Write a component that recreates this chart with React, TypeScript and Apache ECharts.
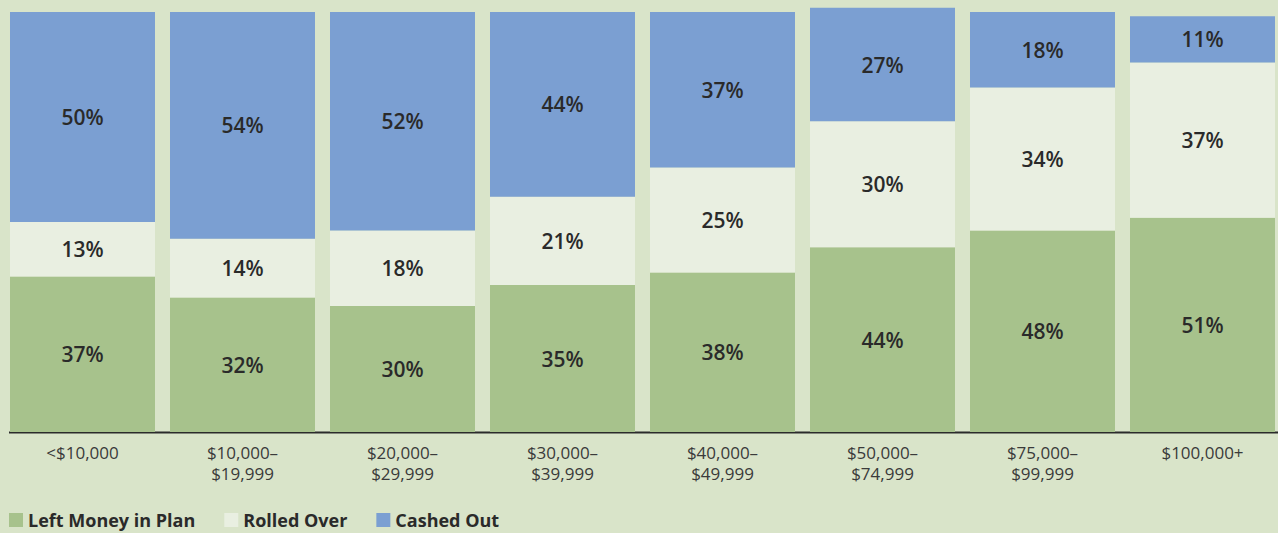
import React, { useEffect, useRef } from "react";
import * as echarts from "echarts";

const categories = [
  "<$10,000",
  "$10,000–\n$19,999",
  "$20,000–\n$29,999",
  "$30,000–\n$39,999",
  "$40,000–\n$49,999",
  "$50,000–\n$74,999",
  "$75,000–\n$99,999",
  "$100,000+",
];
const leftInPlan = [37, 32, 30, 35, 38, 44, 48, 51];
const rolledOver = [13, 14, 18, 21, 25, 30, 34, 37];
const cashedOut = [50, 54, 52, 44, 37, 27, 18, 11];
const seriesNames = ["Left Money in Plan", "Rolled Over", "Cashed Out"];
const colors = ["#a7c28c", "#e9efe1", "#7b9fd2"];

export default function App() {
  const ref = useRef<HTMLDivElement>(null);
  useEffect(() => {
    if (!ref.current) return;
    const chart = echarts.init(ref.current, undefined, { renderer: "svg" });
    const label = {
      show: true,
      position: "inside",
      formatter: "{c}%",
      color: "#2a2a2a",
      fontFamily: "Open Sans",
      fontWeight: 600,
      fontSize: 21,
    };
    const datas = [leftInPlan, rolledOver, cashedOut];
    chart.setOption({
      animation: false,
      backgroundColor: "#d9e4c9",
      grid: { left: 2.5, top: 12, width: 1280, height: 420 },
      xAxis: {
        type: "category",
        data: categories,
        axisLine: { show: false },
        axisTick: { show: false },
        axisLabel: {
          margin: 10,
          color: "#3a3a3a",
          fontFamily: "Open Sans",
          fontSize: 17,
          lineHeight: 21,
          interval: 0,
        },
      },
      yAxis: {
        type: "value",
        min: 0,
        max: 100,
        show: false,
        splitLine: { show: false },
      },
      legend: {
        left: 9,
        top: 510,
        padding: 0,
        icon: "rect",
        itemWidth: 14,
        itemHeight: 14,
        itemGap: 29,
        textStyle: {
          color: "#2a2a2a",
          fontFamily: "Open Sans",
          fontWeight: "bold",
          fontSize: 18,
          lineHeight: 20,
        },
        data: seriesNames,
      },
      graphic: [
        {
          type: "line",
          shape: { x1: 9, y1: 432.5, x2: 1290, y2: 432.5 },
          style: { stroke: "#2a2a2a", lineWidth: 2 },
        },
      ],
      series: seriesNames.map((name, i) => ({
        name,
        type: "bar",
        stack: "total",
        barWidth: 145,
        clip: false,
        data: datas[i],
        itemStyle: { color: colors[i] },
        label,
      })),
    });
    return () => chart.dispose();
  }, []);
  return (
    <div
      style={{
        position: "absolute",
        left: 0,
        top: 0,
        width: 1278,
        height: 533,
        overflow: "hidden",
      }}
    >
      <div ref={ref} style={{ width: 1290, height: 533 }} />
    </div>
  );
}
